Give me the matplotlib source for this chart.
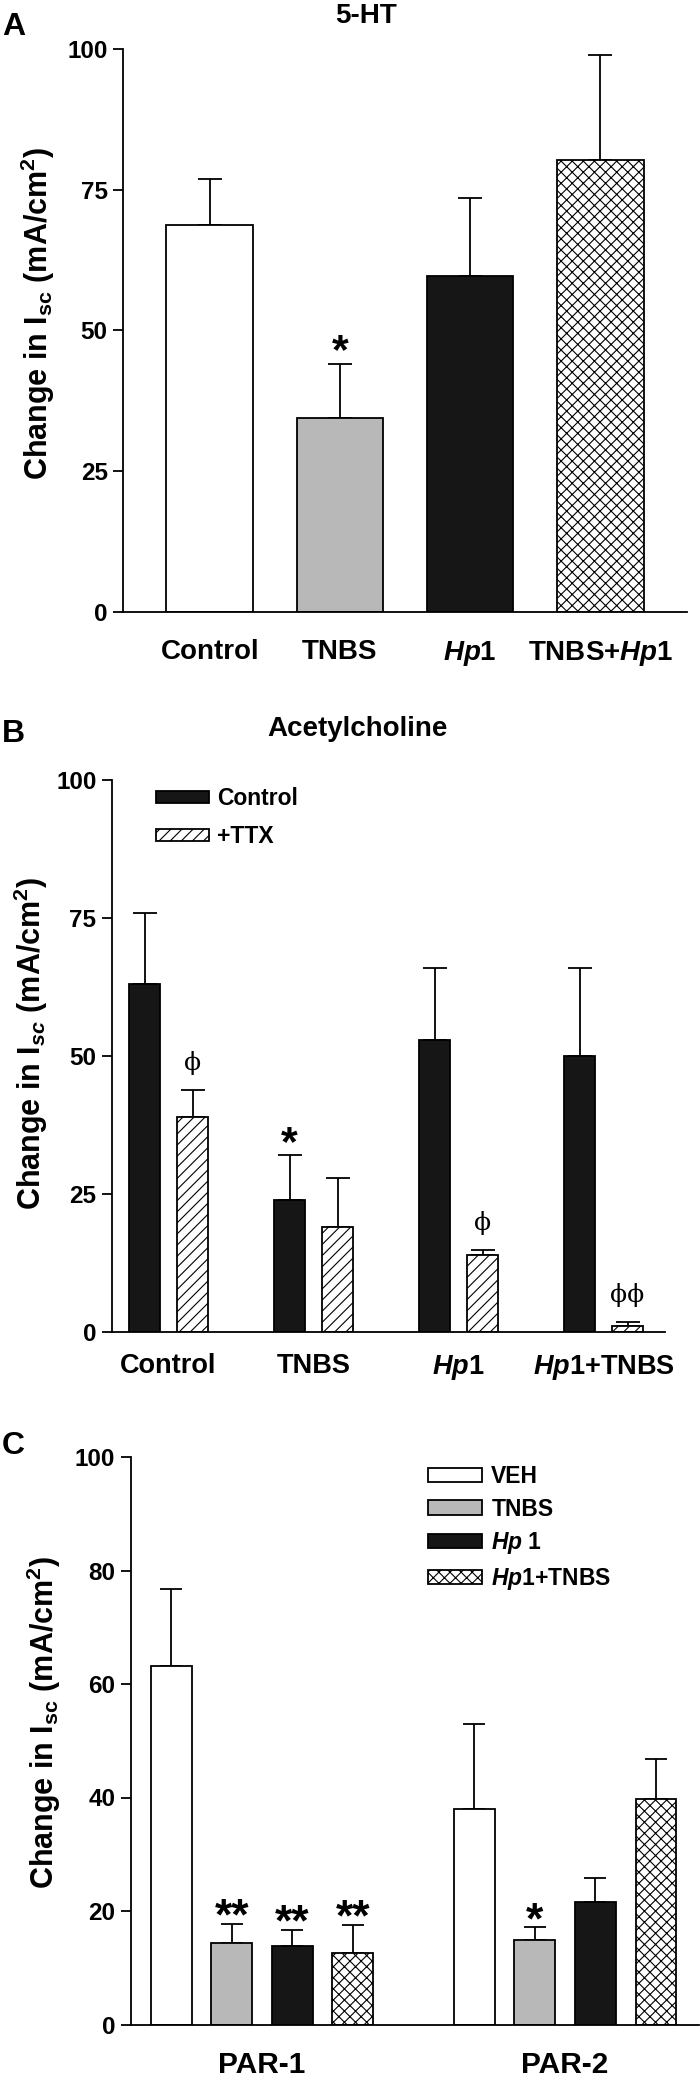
import numpy as np
import matplotlib
matplotlib.use("Agg")
import matplotlib.pyplot as plt

plt.rcParams['font.family'] = ['Liberation Sans', 'DejaVu Sans']
plt.rcParams['font.weight'] = 'bold'
plt.rcParams['mathtext.fontset'] = 'custom'
plt.rcParams['mathtext.rm'] = 'Liberation Sans:bold'
plt.rcParams['mathtext.it'] = 'Liberation Sans:italic:bold'
plt.rcParams['mathtext.bf'] = 'Liberation Sans:bold'
plt.rcParams['hatch.linewidth'] = 0.8
plt.rcParams['axes.linewidth'] = 1.3

# A: 5-HT
a_groups = ['Control', 'TNBS', r'$\mathit{Hp}$1', r'TNBS+$\mathit{Hp}$1']
a_mean = [68.8, 34.5, 59.7, 80.3]
a_sem = [8.1, 9.6, 13.8, 18.6]
a_marks = ['', '*', '', '']

# B: acetylcholine, control vs +TTX
b_groups = ['Control', 'TNBS', r'$\mathit{Hp}$1', r'$\mathit{Hp}$1+TNBS']
b_ctrl = [63.0, 24.0, 53.0, 50.1]
b_ctrl_sem = [13.0, 8.0, 12.9, 15.8]
b_ttx = [38.9, 19.0, 13.9, 1.0]
b_ttx_sem = [5.0, 8.9, 1.0, 0.9]
b_ctrl_marks = ['', '*', '', '']
b_ttx_marks = ['\u03d5', '', '\u03d5', '\u03d5\u03d5']

# C: PAR agonists
c_groups = ['PAR-1', 'PAR-2']
c_series = ['VEH', 'TNBS', r'$\mathit{Hp}$ 1', r'$\mathit{Hp}$1+TNBS']
c_mean = [[63.1, 38.0], [14.4, 14.9], [13.8, 21.6], [12.6, 39.7]]
c_sem = [[13.7, 14.9], [3.3, 2.2], [2.9, 4.2], [5.0, 7.1]]
c_marks = [['', ''], ['**', '*'], ['**', ''], ['**', '']]

WHITE = '#ffffff'
GRAY = '#b8b8b8'
BLACK = '#161616'
fills = [WHITE, GRAY, BLACK, WHITE]
hatches = [None, None, None, 'xxx']

W, H = 700, 2082
fig = plt.figure(figsize=(W / 100, H / 100), dpi=100)


def add_ax(left, top, right, bottom):
    ax = fig.add_axes([left / W, 1 - bottom / H, (right - left) / W, (bottom - top) / H])
    ax.spines['top'].set_visible(False)
    ax.spines['right'].set_visible(False)
    ax.tick_params(axis='y', direction='out', length=7, width=1.3, pad=4, labelsize=17.5)
    return ax


def ylab(ax, x, y, sub):
    ax.text(x, y, r'Change in $\mathrm{I}_{%s}$ (mA/cm$^{2}$)' % sub, transform=ax.transAxes,
            rotation=90, ha='center', va='center', fontsize=22, fontweight='bold')


def errs(ax, x, m, e, cap):
    ax.errorbar(x, m, yerr=[np.zeros(len(m)), e], fmt='none', ecolor='black',
                elinewidth=1.3, capsize=cap, capthick=1.3, zorder=1)


# ---------------- A
ax = add_ax(123, 49, 687, 611.7)
x = np.arange(len(a_groups))
errs(ax, x, a_mean, a_sem, 8.5)
for i in range(4):
    ax.bar(x[i], a_mean[i], width=0.667, color=fills[i], edgecolor='black',
           linewidth=1.3, hatch=hatches[i], zorder=2)
for i, s in enumerate(a_marks):
    if s:
        ax.text(x[i], a_mean[i] + a_sem[i], s, ha='center', va='baseline', fontsize=31, fontweight='bold')
ax.set_xlim(-0.667, 3.667)
ax.set_ylim(0, 100)
ax.set_yticks([0, 25, 50, 75, 100])
ax.set_xticks(x)
ax.set_xticklabels(a_groups, fontsize=20)
ax.tick_params(axis='x', length=0, pad=20)
ylab(ax, -0.151, 0.53, r'\mathrm{sc}')
fig.text(366 / W, 1 - 23 / H, '5-HT', ha='center', va='baseline', fontsize=20)
fig.text(2 / W, 1 - 35 / H, 'A', ha='left', va='baseline', fontsize=23)

# ---------------- B
ax = add_ax(111.7, 780.3, 665, 1332)
x = np.arange(len(b_groups))
off, bw = 0.1655, 0.22
errs(ax, x - off, b_ctrl, b_ctrl_sem, 8.5)
errs(ax, x + off, b_ttx, b_ttx_sem, 8.5)
ax.bar(x - off, b_ctrl, width=bw, color=BLACK, edgecolor='black', linewidth=1.3,
       zorder=2, label='Control')
ax.bar(x + off, b_ttx, width=bw, color=WHITE, edgecolor='black', linewidth=1.3,
       hatch='///', zorder=2, label='+TTX')
for i in range(4):
    if b_ctrl_marks[i]:
        ax.text(x[i] - off, b_ctrl[i] + b_ctrl_sem[i], b_ctrl_marks[i], ha='center',
                va='baseline', fontsize=31, fontweight='bold')
    if b_ttx_marks[i]:
        ax.text(x[i] + off, b_ttx[i] + b_ttx_sem[i] + 3.5, b_ttx_marks[i], ha='center',
                va='baseline', fontsize=18, fontweight='normal', family=['DejaVu Serif'])
ax.set_xlim(-0.392, 3.424)
ax.set_ylim(0, 100)
ax.set_yticks([0, 25, 50, 75, 100])
ax.set_xticks(x)
ax.set_xticklabels(b_groups, fontsize=19.5)
ax.tick_params(axis='x', length=0, pad=15)
ax.legend(loc='upper left', bbox_to_anchor=(156 / W, 1 - 787 / H), bbox_transform=fig.transFigure,
          frameon=False, fontsize=16.5, borderpad=0, borderaxespad=0, handlelength=2.3,
          handleheight=0.44, handletextpad=0.35, labelspacing=0.65)
ylab(ax, -0.146, 0.523, 'sc')
fig.text(357 / W, 1 - 736 / H, 'Acetylcholine', ha='center', va='baseline', fontsize=20)
fig.text(2 / W, 1 - 742 / H, 'B', ha='left', va='baseline', fontsize=23)

# ---------------- C
ax = add_ax(130.5, 1457, 699, 2024.5)
x = np.arange(len(c_groups))
step, bw = 0.2, 0.135
for k in range(4):
    xs = x + (k - 1.5) * step
    errs(ax, xs, c_mean[k], c_sem[k], 8)
    ax.bar(xs, c_mean[k], width=bw, color=fills[k], edgecolor='black', linewidth=1.3,
           hatch=hatches[k], zorder=2, label=c_series[k])
    for j, s in enumerate(c_marks[k]):
        if s:
            ax.text(xs[j], c_mean[k][j] + c_sem[k][j] - 1, s, ha='center', va='baseline',
                    fontsize=32, fontweight='bold')
ax.set_xlim(-0.434, 1.442)
ax.set_ylim(0, 100)
ax.set_yticks([0, 20, 40, 60, 80, 100])
ax.set_xticks(x)
ax.set_xticklabels(c_groups, fontsize=21.5)
ax.tick_params(axis='x', length=0, pad=19)
ax.legend(loc='upper left', bbox_to_anchor=(428 / W, 1 - 1465 / H), bbox_transform=fig.transFigure,
          frameon=False, fontsize=16.5, borderpad=0, borderaxespad=0, handlelength=2.36,
          handleheight=0.6, handletextpad=0.4, labelspacing=0.42)
ylab(ax, -0.153, 0.532, r'\mathrm{sc}')
fig.text(2 / W, 1 - 1454 / H, 'C', ha='left', va='baseline', fontsize=23)

fig.savefig('out.png', dpi=100)
